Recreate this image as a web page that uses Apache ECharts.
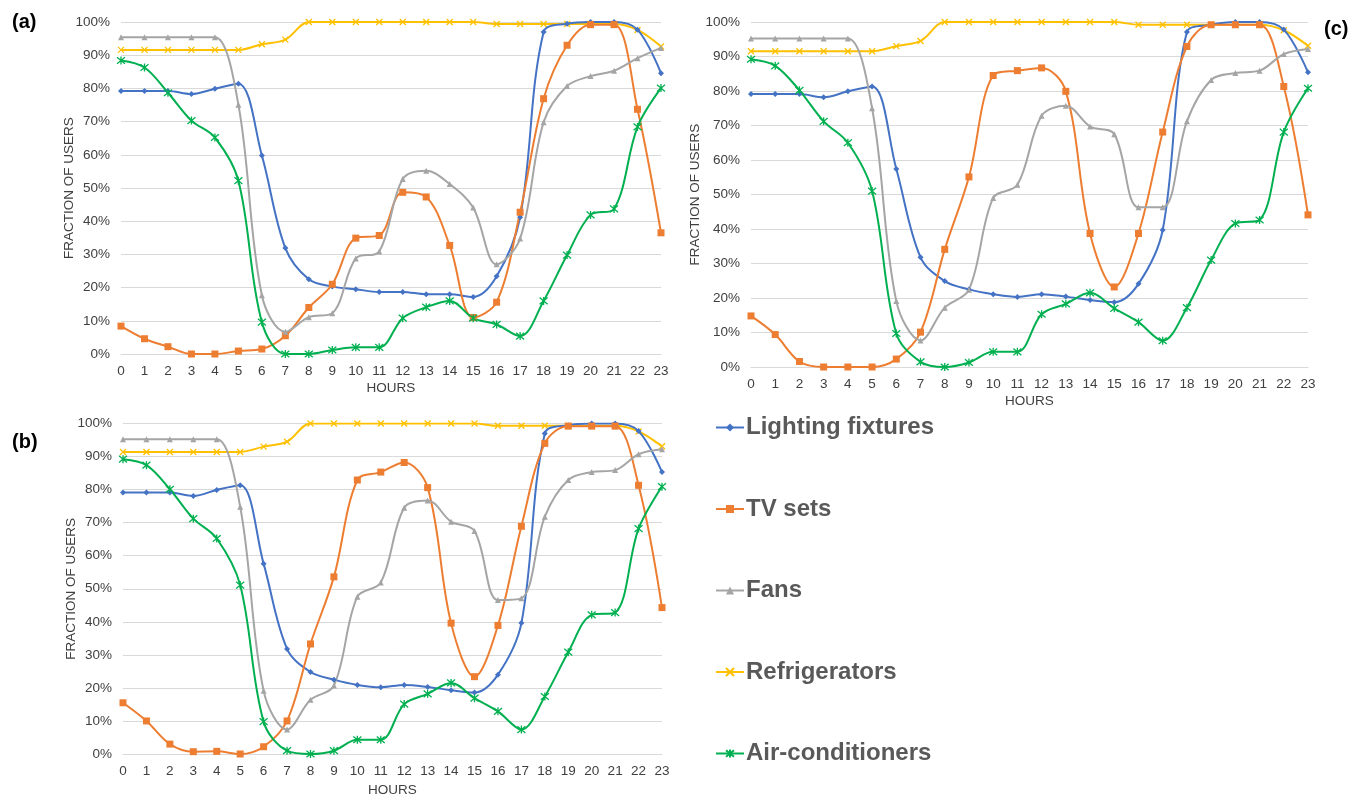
<!DOCTYPE html>
<html><head><meta charset="utf-8">
<script src="https://cdn.jsdelivr.net/npm/echarts@6/dist/echarts.min.js"></script>
<style>html,body{margin:0;padding:0;background:#fff}#c{width:1353px;height:794px}</style>
</head><body><div id="c"></div>
<script>
const hours = ['0','1','2','3','4','5','6','7','8','9','10','11','12','13','14','15','16','17','18','19','20','21','22','23'];
const yTicks = [0,10,20,30,40,50,60,70,80,90,100];
const seriesNames = ['Lighting fixtures','TV sets','Fans','Refrigerators','Air-conditioners'];

// Panel (a)
const lightA = [79.2,79.2,79.2,78.3,79.9,81.4,59.8,31.9,22.5,20.3,19.5,18.7,18.7,18.0,18.0,17.2,23.4,41.2,97.0,99.5,100,100,97.7,84.6];
const tvA    = [8.4,4.6,2.2,0,0,0.9,1.5,5.5,14.0,21.0,34.9,35.7,48.7,47.3,32.7,11.0,15.6,42.7,76.9,93.0,99.2,99.2,73.7,36.5];
const fansA  = [95.4,95.4,95.4,95.4,95.4,75.1,17.7,6.7,11.1,12.3,28.8,30.9,52.7,55.2,51.2,44.1,27.0,34.8,69.8,80.7,83.7,85.3,89.1,92.2];
const refA   = [91.6,91.6,91.6,91.6,91.6,91.6,93.3,94.7,100,100,100,100,100,100,100,100,99.4,99.4,99.4,99.4,99.4,99.4,97.6,92.6];
const acA    = [88.4,86.3,78.7,70.3,65.2,52.2,9.6,0,0,1.2,2.0,2.0,10.8,14.1,16.0,10.8,8.9,5.4,16.0,29.8,41.9,43.7,68.4,80.1];

// Panel (b)
const lightB = [79.1,79.1,79.1,78.1,79.9,81.3,57.6,31.8,24.8,22.5,20.9,20.2,20.9,20.3,19.3,18.6,24.0,39.6,97.0,99.5,100,100,97.7,85.3];
const tvB    = [15.5,10.0,3.0,0.7,0.8,0,2.2,10.0,33.3,53.6,82.9,85.3,88.2,80.6,39.6,23.4,38.9,68.9,94.0,99.2,99.2,99.2,81.3,44.3];
const fansB  = [95.2,95.2,95.2,95.2,95.2,74.8,19.1,7.4,16.4,20.7,47.6,51.9,74.5,76.7,70.3,67.5,46.6,47.1,71.8,82.9,85.3,85.9,90.7,92.2];
const refB   = [91.4,91.4,91.4,91.4,91.4,91.4,93.0,94.5,100,100,100,100,100,100,100,100,99.3,99.3,99.3,99.3,99.3,99.3,97.6,93.1];
const acB    = [89.2,87.4,80.1,71.2,65.2,51.1,9.8,1.0,0,1.0,4.3,4.3,15.1,18.2,21.5,16.9,12.9,7.4,17.4,30.8,42.1,42.8,68.2,80.9];

// Panel (c)
const lightC = [79.1,79.1,79.1,78.2,79.9,81.3,57.4,31.8,24.9,22.5,21.1,20.3,21.1,20.4,19.4,18.8,24.1,39.7,97.1,99.2,100,100,97.8,85.4];
const tvC    = [14.8,9.4,1.6,0,0,0,2.3,10.1,34.1,55.1,84.5,85.9,86.7,79.9,38.7,23.2,38.7,68.1,92.9,99.2,99.2,99.2,81.3,44.1];
const fansC  = [95.2,95.2,95.2,95.2,95.2,75.0,19.1,7.7,17.2,22.4,49.0,52.8,72.8,75.7,69.7,67.5,46.3,46.3,71.2,83.2,85.2,85.9,90.7,92.2];
const refC   = [91.5,91.5,91.5,91.5,91.5,91.5,93.0,94.5,100,100,100,100,100,100,100,100,99.2,99.2,99.2,99.2,99.2,99.2,97.6,93.1];
const acC    = [89.2,87.3,80.2,71.2,65.0,51.0,9.7,1.5,0,1.3,4.4,4.4,15.3,18.3,21.5,17.0,13.0,7.6,17.2,31.0,41.6,42.6,68.1,80.8];

const panels = [
  [lightA, tvA, fansA, refA, acA],
  [lightB, tvB, fansB, refB, acB],
  [lightC, tvC, fansC, refC, acC]
];

const colors = ['#4472C4','#ED7D31','#A5A5A5','#FFC000','#00B050'];
const symbols = ['diamond','rect','triangle','path://M0,0L10,10M10,0L0,10','path://M0,0L10,10M10,0L0,10M5,-1L5,11'];
const symbolSizes = [6,7,6,6,8];

const grids = [
  {left:121, right:692, top:22, height:332, outerBoundsMode:'none', containLabel:false},
  {left:123, right:691, top:423.5, height:330.5, outerBoundsMode:'none', containLabel:false},
  {left:751, right:45, top:22, height:345, outerBoundsMode:'none', containLabel:false}
];
const yNameGap = [45,45,49];
const xNameGap = [27,29,27];

const axisFont = {color:'#404040', fontSize:13.5, fontFamily:'Liberation Sans, Arial, sans-serif'};

const xAxis = grids.map((g,i)=>({
  type:'category', gridIndex:i, data:hours, boundaryGap:false,
  name:'HOURS', nameLocation:'middle', nameGap:xNameGap[i], nameMoveOverlap:false,
  nameTextStyle:Object.assign({}, axisFont),
  axisLine:{show:true, lineStyle:{color:'#d9d9d9'}},
  axisTick:{show:false},
  axisLabel:Object.assign({margin:10}, axisFont),
  splitLine:{show:false}
}));
const yAxis = grids.map((g,i)=>({
  type:'value', gridIndex:i, min:0, max:100, interval:10,
  name:'FRACTION OF USERS', nameLocation:'middle', nameGap:yNameGap[i], nameRotate:90, nameMoveOverlap:false,
  nameTextStyle:Object.assign({}, axisFont),
  axisLine:{show:false}, axisTick:{show:false},
  axisLabel:Object.assign({margin:11, formatter:v=>v+'%'}, axisFont),
  splitLine:{lineStyle:{color:'#d9d9d9', width:1}}
}));

const series = [];
panels.forEach((p,gi)=>{
  p.forEach((arr,si)=>{
    const isPath = si>=3;
    series.push({
      name:seriesNames[si], type:'line', xAxisIndex:gi, yAxisIndex:gi,
      data:arr, smooth:0.35,
      symbol:symbols[si], symbolSize:symbolSizes[si], showSymbol:true,
      lineStyle:{color:colors[si], width:2},
      itemStyle:{color:colors[si], borderColor:colors[si], borderWidth:isPath?1.3:0},
      emphasis:{disabled:true},
      z: 2+ (si===3?0:1)
    });
  });
});

const chart = echarts.init(document.getElementById('c'), null, {renderer:'canvas'});
chart.setOption({
  animation:false,
  backgroundColor:'#fff',
  grid:grids,
  xAxis:xAxis, yAxis:yAxis,
  legend:{
    data:seriesNames, orient:'vertical', left:710, top:410,
    itemWidth:28, itemHeight:10, itemGap:56.5,
    textStyle:{fontSize:24, fontWeight:'bold', color:'#595959', fontFamily:'Liberation Sans, Arial, sans-serif', lineHeight:25, padding:[0,0,0,-3]},
    selectedMode:false
  },
  graphic:[
    {type:'text', left:12, top:12, style:{text:'(a)', font:'bold 20px Liberation Sans, Arial, sans-serif', fill:'#000'}},
    {type:'text', left:12, top:432, style:{text:'(b)', font:'bold 20px Liberation Sans, Arial, sans-serif', fill:'#000'}},
    {type:'text', left:1324, top:19, style:{text:'(c)', font:'bold 20px Liberation Sans, Arial, sans-serif', fill:'#000'}}
  ],
  series:series
});
</script></body></html>
